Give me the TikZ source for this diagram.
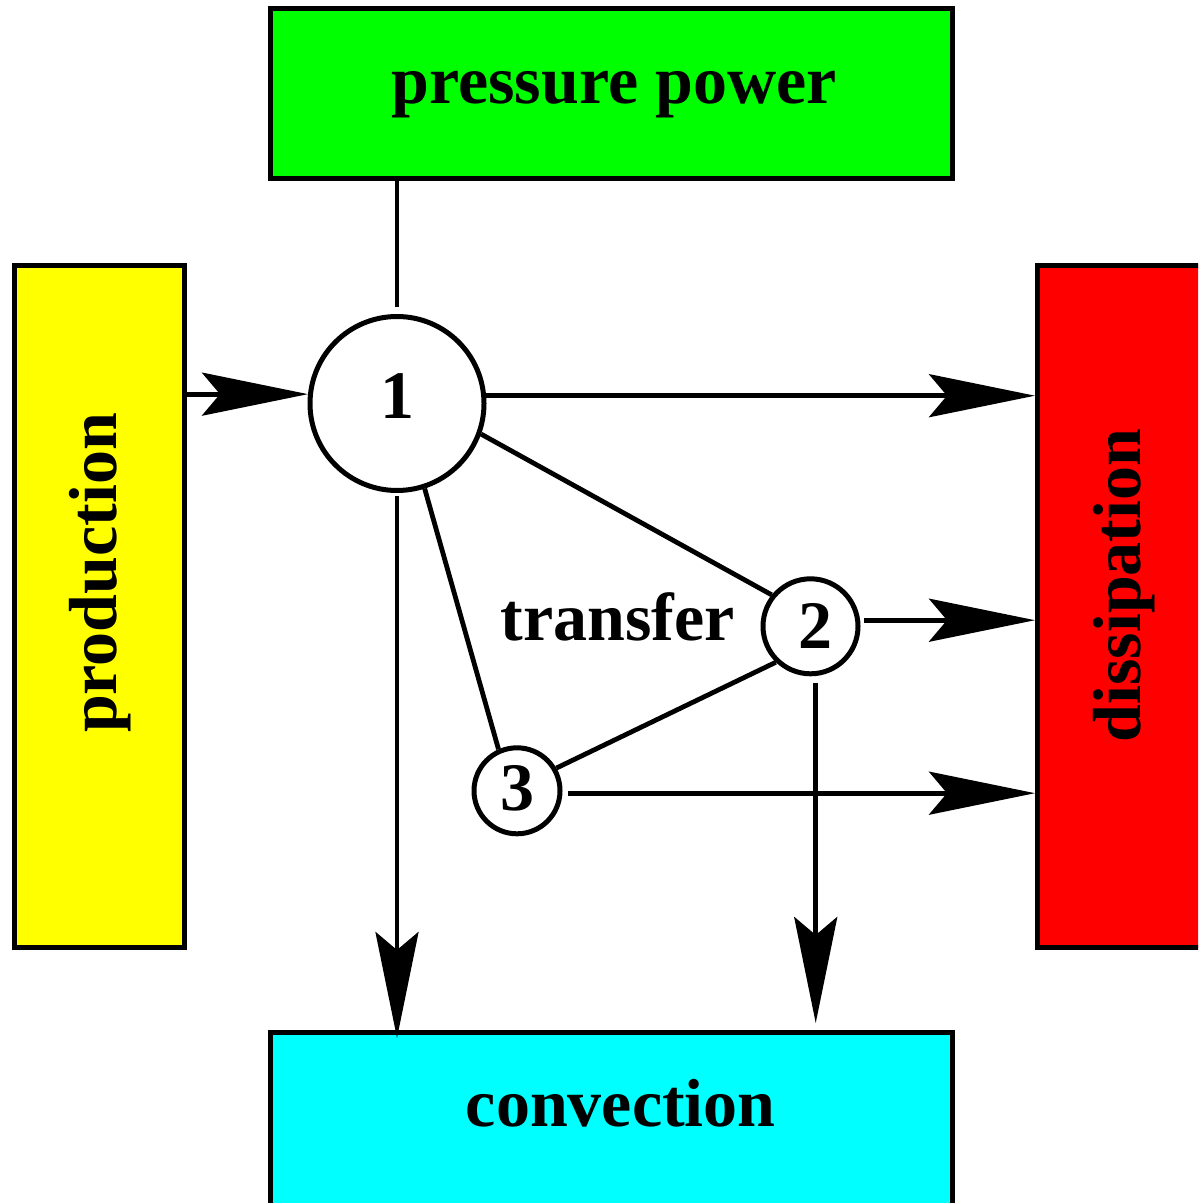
\documentclass[tikz,border=0pt]{standalone}
\usepackage{fontspec}
\setmainfont{Liberation Serif}
\usetikzlibrary{arrows.meta,calc}
\definecolor{boxgreen}{RGB}{0,255,0}
\definecolor{boxyellow}{RGB}{255,255,0}
\definecolor{boxred}{RGB}{255,0,0}
\definecolor{boxcyan}{RGB}{0,255,255}
\begin{document}
\begin{tikzpicture}[x=0.5pt,y=-0.5pt,
  lbl/.style={font=\bfseries\fontsize{34pt}{40pt}\selectfont},
  box/.style={draw=black,line width=2.5pt,inner sep=0pt,lbl},
  hbox/.style={box,minimum width=341pt,minimum height=85pt},
  vbox/.style={box,rotate=90,minimum width=341pt,minimum height=85pt},
  ball/.style={circle,draw=black,line width=2.5pt,fill=white,inner sep=0pt,lbl},
  ln/.style={line width=2.4pt},
  arr/.style={ln,-{Stealth[length=53pt,width=21.5pt,inset=9pt]}}]
\useasboundingbox (0,0) rectangle (1198,1203);
\clip (0,0) rectangle (1198,1203);
% boxes
\node[hbox,fill=boxgreen,text height=20pt,text depth=10pt] (press) at (611,94) {\hspace*{3pt}pressure power};
\node[hbox,fill=boxcyan,minimum height=90pt,text height=20pt,text depth=15.8pt] (conv) at (611,1122.5) {\hspace*{9.7pt}convection};
\node[vbox,fill=boxyellow,text height=24pt,text depth=6.3pt] (prod) at (99,606.5) {\hspace*{33.5pt}production};
\node[vbox,fill=boxred,minimum height=90pt,text height=24pt,text depth=11.5pt] (diss) at (1127.5,606.5) {\hspace*{21pt}dissipation};
% circles
\node[ball,minimum size=87pt] (c1) at (397,403.5) {\raisebox{3.75pt}[\height][0pt]{1}};
\node[ball,minimum size=47.5pt] (c2) at (810.5,626.3) {\hspace*{5.3pt}2};
\node[ball,minimum size=43pt] (c3) at (517,790.8) {\raisebox{1.4pt}[\height][0pt]{3}};
\node[lbl,anchor=base] (tr) at (617.5,640) {transfer};
% connectors
\draw[ln,shorten >=3.5pt] (press.south -| c1.north) -- (c1.north);
\draw[arr] (prod.south |- c1.174) -- (c1.174);
\draw[arr] (c1.5) -- (diss.north |- c1.5);
\draw[arr,shorten <=2pt] (c2.7) -- (diss.north |- c2.7);
\draw[arr,shorten <=3pt] (c3.-3) -- (diss.north |- c3.-3);
\draw[arr,shorten <=1.5pt] (c1.south) -- ($(c1.south |- conv.north)+(0,8)$);
\draw[arr,shorten <=3.5pt] (c2.-84) -- ($(c2.-84 |- conv.north)+(0,-7)$);
\draw[ln] (c1.-20) -- (c2.141);
\draw[ln] (c1.-72) -- (c3.114);
\draw[ln] (c3.30) -- (c2.226);
\end{tikzpicture}
\end{document}
